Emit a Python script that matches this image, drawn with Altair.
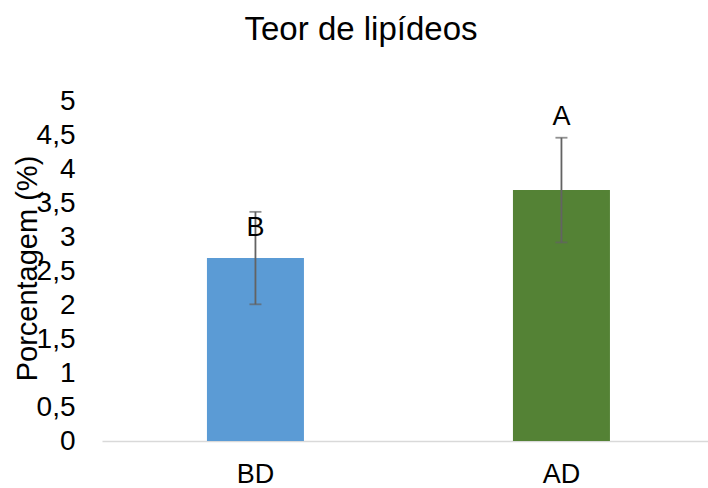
import altair as alt
import pandas as pd

categories = ["BD", "AD"]
values = [2.69, 3.69]
errors = [0.68, 0.77]
letters = ["B", "A"]
letter_y = [3.13, 4.76]
colors = ["#5B9BD5", "#548235"]
y_ticks = [0, 0.5, 1, 1.5, 2, 2.5, 3, 3.5, 4, 4.5, 5]

df = pd.DataFrame({
    "cat": categories,
    "val": values,
    "lo": [v - e for v, e in zip(values, errors)],
    "hi": [v + e for v, e in zip(values, errors)],
    "letter": letters,
    "ly": letter_y,
})

FONT = "Liberation Sans"

x_axis = alt.Axis(labelAngle=0, labelFontSize=27, labelFont=FONT, labelColor="#000000",
                  ticks=False, domainColor="#d9d9d9", domainWidth=1.3,
                  labelPadding=47, labelBaseline="bottom", title=None)
x = alt.X("cat:N", sort=categories, title=None,
          scale=alt.Scale(paddingInner=0.683, paddingOuter=0.3317, align=0.517), axis=x_axis)

y_scale = alt.Scale(domain=[0, 5], nice=False)
y_axis = alt.Axis(values=y_ticks,
                  labelExpr="replace(format(datum.value, '.1~f'), '.', ',')",
                  labelOverlap=False, labelFlush=False, tickCount=11,
                  labelFontSize=28, labelFont=FONT, labelColor="#000000",
                  grid=False, domain=False, ticks=False, labelPadding=27,
                  title="Porcentagem (%)",
                  titleFontSize=29, titleFont=FONT, titleFontWeight="normal",
                  titleColor="#000000", titleX=-75, titleY=167,
                  titleAngle=-90, titleBaseline="middle", titleAlign="center")

bars = alt.Chart(df).mark_bar().encode(
    x=x,
    y=alt.Y("val:Q", scale=y_scale, title="Porcentagem (%)", axis=y_axis),
    color=alt.Color("cat:N", scale=alt.Scale(domain=categories, range=colors), legend=None),
)

rules = alt.Chart(df).mark_rule(color="#636363", strokeWidth=1.8).encode(
    x=x,
    y=alt.Y("lo:Q", scale=y_scale, title="Porcentagem (%)", axis=y_axis),
    y2="hi:Q",
)

caps_lo = alt.Chart(df).mark_tick(color="#636363", size=12, thickness=1.8).encode(
    x=x,
    y=alt.Y("lo:Q", scale=y_scale, title="Porcentagem (%)", axis=y_axis),
)
caps_hi = alt.Chart(df).mark_tick(color="#636363", size=12, thickness=1.8).encode(
    x=x,
    y=alt.Y("hi:Q", scale=y_scale, title="Porcentagem (%)", axis=y_axis),
)

labels = alt.Chart(df).mark_text(fontSize=27, font=FONT, color="#000000", baseline="middle").encode(
    x=x,
    y=alt.Y("ly:Q", scale=y_scale, title="Porcentagem (%)", axis=y_axis),
    text="letter:N",
)

chart = alt.layer(bars, rules, caps_lo, caps_hi, labels).properties(
    width=606, height=340,
    title=alt.TitleParams("Teor de lipídeos", fontSize=33, font=FONT, fontWeight="normal",
                          color="#000000", anchor="middle", dx=-44, offset=40),
    autosize=alt.AutoSizeParams(type="none"),
    padding={"left": 102, "top": 101, "right": 0, "bottom": 47},
).configure_view(stroke=None)

chart.save("out.html", embed_options={"renderer": "svg", "actions": False})
